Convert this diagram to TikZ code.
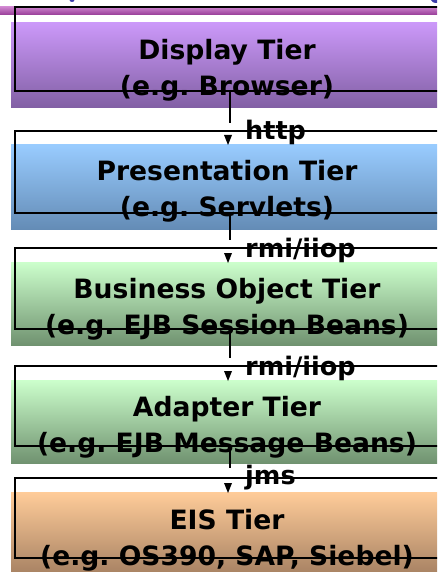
\documentclass[tikz,border=0pt]{standalone}
\usepackage{fontspec}
\setmainfont{DejaVu Sans}
\frenchspacing
\begin{document}
\begin{tikzpicture}[x=1pt,y=-1pt,
  tierfill/.style={anchor=north west,inner sep=0pt,minimum width=426pt,minimum height=#1},
  tierline/.style={draw=black,line width=1.8pt,anchor=north west,inner sep=0pt,minimum width=440pt,minimum height=#1},
  tiertext/.style={align=center,font=\fontsize{26.6}{36}\selectfont\bfseries,inner sep=0pt},
  proto/.style={anchor=base west,font=\fontsize{25.5}{28}\selectfont\bfseries,inner sep=0pt},
  conn/.style={draw=black,line width=1.5pt},
  tip/.style={fill=black}]
\definecolor{purA}{RGB}{204,153,250}\definecolor{purB}{RGB}{130,96,165}
\definecolor{bluA}{RGB}{153,204,255}\definecolor{bluB}{RGB}{100,140,182}
\definecolor{grnA}{RGB}{204,255,204}\definecolor{grnB}{RGB}{112,146,112}
\definecolor{orgA}{RGB}{255,204,153}\definecolor{orgB}{RGB}{165,128,98}
\definecolor{bandA}{RGB}{205,130,205}\definecolor{bandB}{RGB}{150,60,150}
\definecolor{ttl}{RGB}{60,60,170}
\useasboundingbox (0,0) rectangle (437,572);
\clip (0,0) rectangle (437,572);

% header band and the cut-off title glyphs
\shade[top color=bandA,bottom color=bandB] (0,7) rectangle (437,15);
\fill[ttl] (72,0) ellipse (2.5pt and 2pt);
\fill[ttl] (437,0) ellipse (6pt and 3pt);

% tier backgrounds
\node[tierfill=85pt,top color=purA,bottom color=purB] (dispf) at (11,22) {};
\node[tierfill=85pt,top color=bluA,bottom color=bluB] (presf) at (11,144) {};
\node[tierfill=83pt,top color=grnA,bottom color=grnB] (busf) at (11,262) {};
\node[tierfill=83pt,top color=grnA,bottom color=grnB] (adpf) at (11,380) {};
\node[tierfill=84pt,top color=orgA,bottom color=orgB] (eisf) at (11,492) {};

% tier outlines
\node[tierline=84pt] (dispo) at (14,6) {};
\node[tierline=82pt] (preso) at (14,130) {};
\node[tierline=81pt] (buso) at (14,247) {};
\node[tierline=80pt] (adpo) at (14,365) {};
\node[tierline=80pt] (eiso) at (14,477) {};

% tier captions
\node[tiertext] (dispt) at (227,70.5) {Display Tier\\(e.g. Browser)};
\node[tiertext] (prest) at (227,191) {Presentation Tier\\(e.g. Servlets)};
\node[tiertext] (bust) at (227,309.5) {Business Object Tier\\(e.g. EJB Session Beans)};
\node[tiertext] (adpt) at (227,427) {Adapter Tier\\(e.g. EJB Message Beans)};
\node[tiertext] (eist) at (227,540.5) {EIS Tier\\(e.g. OS390, SAP, Siebel)};

% connectors
\coordinate (e1) at (230,123); \coordinate (h1) at (228,135);
\coordinate (e2) at (230,240); \coordinate (h2) at (228,253);
\coordinate (e3) at (230,358); \coordinate (h3) at (228,371);
\coordinate (e4) at (230,468); \coordinate (h4) at (228,483);
\draw[conn] (dispo.south west -| e1) -- (e1);
\draw[conn] (preso.south west -| e2) -- (e2);
\draw[conn] (buso.south west -| e3) -- (e3);
\draw[conn] (adpo.south west -| e4) -- (e4);
\foreach \h in {h1,h2,h3,h4}
  \fill[tip] (\h) ++(-4,0) -- ++(8,0) -- ++(-4,10) -- cycle;

% protocol labels
\node[proto] (l1) at (245,140) {http};
\node[proto] (l2) at (245,257) {rmi/iiop};
\node[proto] (l3) at (245,375) {rmi/iiop};
\node[proto] (l4) at (245,484) {jms};
\end{tikzpicture}
\end{document}
